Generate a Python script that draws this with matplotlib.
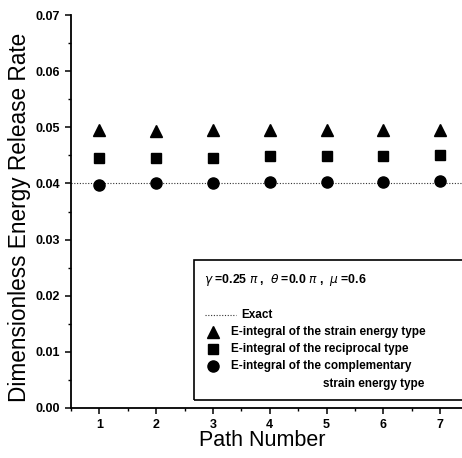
import numpy as np
import matplotlib.pyplot as plt
from matplotlib.patches import Rectangle
from matplotlib.ticker import MultipleLocator

plt.rcParams['font.family'] = ['Liberation Sans', 'DejaVu Sans']

path = [1, 2, 3, 4, 5, 6, 7]
exact = 0.0400
strain = [0.0496, 0.0494, 0.0495, 0.0495, 0.0495, 0.0495, 0.0496]
recip = [0.0445, 0.0445, 0.0446, 0.0448, 0.0449, 0.0449, 0.0450]
compl = [0.0397, 0.0400, 0.0401, 0.0402, 0.0403, 0.0403, 0.0405]

fig = plt.figure(figsize=(4.62, 4.58), dpi=100)
ax = fig.add_axes([71 / 462, 1 - 408 / 458, 397.6 / 462, 393 / 458])

ax.plot([0.5, 7.5], [exact, exact], ls=(0, (1, 1.5)), lw=0.8, color='#333333')
ax.plot(path, strain, ls='none', marker='^', ms=8.5, color='black')
ax.plot(path, recip, ls='none', marker='s', ms=7, color='black')
ax.plot(path, compl, ls='none', marker='o', ms=8, color='black')

ax.set_xlim(0.5, 7.5)
ax.set_ylim(0, 0.07)
ax.xaxis.set_major_locator(MultipleLocator(1))
ax.xaxis.set_minor_locator(MultipleLocator(0.5))
ax.yaxis.set_major_locator(MultipleLocator(0.01))
ax.yaxis.set_minor_locator(MultipleLocator(0.005))
ax.yaxis.set_major_formatter(plt.FuncFormatter(lambda v, p: '%.2f' % v))
for s in ['top', 'right']:
    ax.spines[s].set_visible(False)
for s in ['left', 'bottom']:
    ax.spines[s].set_linewidth(1.3)
ax.tick_params(which='major', length=4, width=1.1, labelsize=9, pad=4)
ax.tick_params(which='minor', length=2, width=1)
for lab in ax.get_xticklabels() + ax.get_yticklabels():
    lab.set_fontweight('bold')

ax.set_ylabel('Dimensionless Energy Release Rate', fontsize=16.3)
ax.yaxis.set_label_coords(-0.1, 0.486)
ax.set_xlabel('Path Number', fontsize=15.5)
ax.xaxis.set_label_coords(0.48, -0.055)

# legend box
def axx(px):
    return (px - 71) / 397.6

def axy(py):
    return (408 - py) / 393

ax.add_patch(Rectangle((axx(194), axy(400)), 1.0, axy(260) - axy(400),
                       transform=ax.transAxes, fill=False, lw=1.2,
                       clip_on=False, color='black'))
ax.text(axx(204), axy(280), r'$\gamma$ =0.25 $\pi$ ,  $\theta$ =0.0 $\pi$ ,  $\mu$ =0.6',
        transform=ax.transAxes, fontsize=8.8, fontweight='bold', va='center')
ax.plot([axx(205), axx(236)], [axy(315), axy(315)], transform=ax.transAxes,
        ls=(0, (1, 1.5)), lw=0.8, color='#333333', clip_on=False)
ax.text(axx(241), axy(315), 'Exact', transform=ax.transAxes, fontsize=8.5,
        fontweight='bold', va='center')
rows = [('^', 8.5, 332, 'E-integral of the strain energy type'),
        ('s', 7, 349, 'E-integral of the reciprocal type'),
        ('o', 8, 366, 'E-integral of the complementary')]
for m, ms, py, txt in rows:
    ax.plot([axx(213)], [axy(py)], marker=m, ms=ms, color='black',
            transform=ax.transAxes, clip_on=False)
    ax.text(axx(231), axy(py), txt, transform=ax.transAxes, fontsize=8.5,
            fontweight='bold', va='center')
ax.text(axx(323), axy(384), 'strain energy type', transform=ax.transAxes,
        fontsize=8.5, fontweight='bold', va='center')

fig.savefig('out.png', dpi=100)
